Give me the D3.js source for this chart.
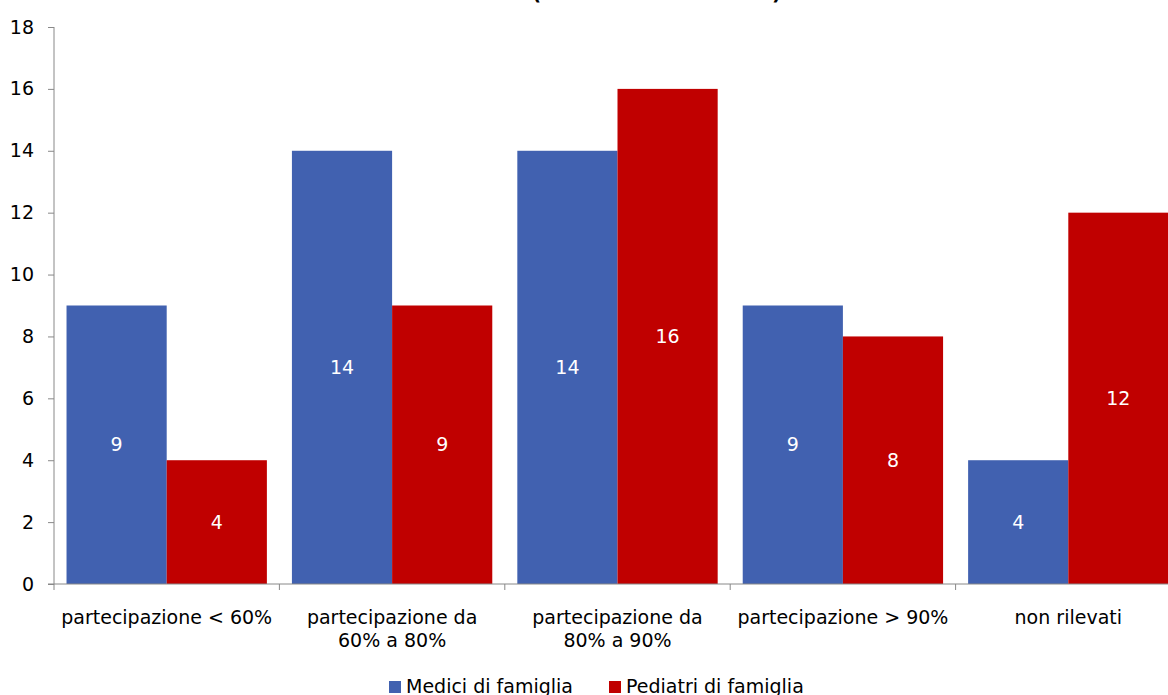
<!DOCTYPE html>
<html>
<head>
<meta charset="utf-8">
<script src="https://cdn.jsdelivr.net/npm/d3@7"></script>
<style>
  body { margin: 0; background: #fff; }
  svg { display: block; font-family: "DejaVu Sans", Verdana, sans-serif; }
</style>
</head>
<body>
<script>
// categories and the two series
var categories = ["partecipazione < 60%", "partecipazione da|60% a 80%", "partecipazione da|80% a 90%", "partecipazione > 90%", "non rilevati"];
var seriesNames = ["Medici di famiglia", "Pediatri di famiglia"];
var medici = [9, 14, 14, 9, 4];
var pediatri = [4, 9, 16, 8, 12];
var yTicks = [0, 2, 4, 6, 8, 10, 12, 14, 16, 18];
var colors = ["#4161B0", "#C00000"];

var W = 1168, H = 695;
var FS = "19px";
var svg = d3.select("body").append("svg")
  .attr("width", W).attr("height", H);

var x = d3.scaleBand().domain(d3.range(categories.length))
  .range([54, 1181]).paddingInner(0).paddingOuter(0);
var inner = d3.scaleBand().domain([0, 1])
  .range([0, x.bandwidth()]).paddingOuter(0.125).paddingInner(0);
var y = d3.scaleLinear().domain([0, 18]).range([584, 27]);

// title (cut off at the top of the picture)
svg.append("text").attr("x", 532).attr("y", 0)
  .style("font-size", "20px").style("font-weight", "bold").text("(");
svg.append("text").attr("x", 772).attr("y", 0)
  .style("font-size", "20px").style("font-weight", "bold").text(")");

var data = [];
categories.forEach(function(c, i) {
  data.push({cat: i, s: 0, v: medici[i]});
  data.push({cat: i, s: 1, v: pediatri[i]});
});

svg.append("g").selectAll("rect")
  .data(data).enter().append("rect")
  .attr("x", function(d) { return x(d.cat) + inner(d.s); })
  .attr("y", function(d) { return y(d.v); })
  .attr("width", inner.bandwidth())
  .attr("height", function(d) { return y(0) - y(d.v); })
  .attr("fill", function(d) { return colors[d.s]; });

svg.append("g").selectAll("text")
  .data(data).enter().append("text")
  .attr("x", function(d) { return x(d.cat) + inner(d.s) + inner.bandwidth() / 2; })
  .attr("y", function(d) { return y(d.v / 2); })
  .attr("dy", "0.35em")
  .attr("text-anchor", "middle")
  .attr("fill", "#fff")
  .style("font-size", FS)
  .text(function(d) { return d.v; });

// y axis
var yAxis = svg.append("g")
  .attr("transform", "translate(54,0)")
  .call(d3.axisLeft(y).tickValues(yTicks).tickSize(6).tickPadding(14));
yAxis.select(".domain").attr("stroke", "#888").attr("d", "M0," + y(18) + "V" + y(0));
yAxis.selectAll(".tick line").attr("stroke", "#888");
yAxis.selectAll(".tick text").style("font-size", FS).attr("fill", "#000")
  .attr("font-family", "DejaVu Sans, Verdana, sans-serif");

// x axis
var xAxis = svg.append("g").attr("transform", "translate(0," + y(0) + ")");
xAxis.append("line").attr("x1", 48).attr("x2", W).attr("y1", 0).attr("y2", 0)
  .attr("stroke", "#888");
xAxis.selectAll("line.t")
  .data(d3.range(categories.length + 1)).enter().append("line")
  .attr("class", "t")
  .attr("x1", function(i) { return i < categories.length ? x(i) : x.range()[1]; })
  .attr("x2", function(i) { return i < categories.length ? x(i) : x.range()[1]; })
  .attr("y1", 0).attr("y2", 6).attr("stroke", "#888");

var labels = xAxis.selectAll("text.cat")
  .data(categories).enter().append("text")
  .attr("class", "cat")
  .attr("text-anchor", "middle")
  .style("font-size", FS)
  .attr("fill", "#000");
labels.each(function(c, i) {
  var lines = c.split("|");
  var t = d3.select(this);
  lines.forEach(function(l, k) {
    t.append("tspan")
      .attr("x", x(i) + x.bandwidth() / 2)
      .attr("y", 40 + k * 23)
      .text(l);
  });
});

// legend
var legend = svg.append("g");
var lx = [389, 609];
seriesNames.forEach(function(n, i) {
  legend.append("rect").attr("x", lx[i]).attr("y", 681).attr("width", 12).attr("height", 12)
    .attr("fill", colors[i]);
  legend.append("text").attr("x", lx[i] + 17).attr("y", 693)
    .style("font-size", FS).attr("fill", "#000").text(n);
});
</script>
</body>
</html>
